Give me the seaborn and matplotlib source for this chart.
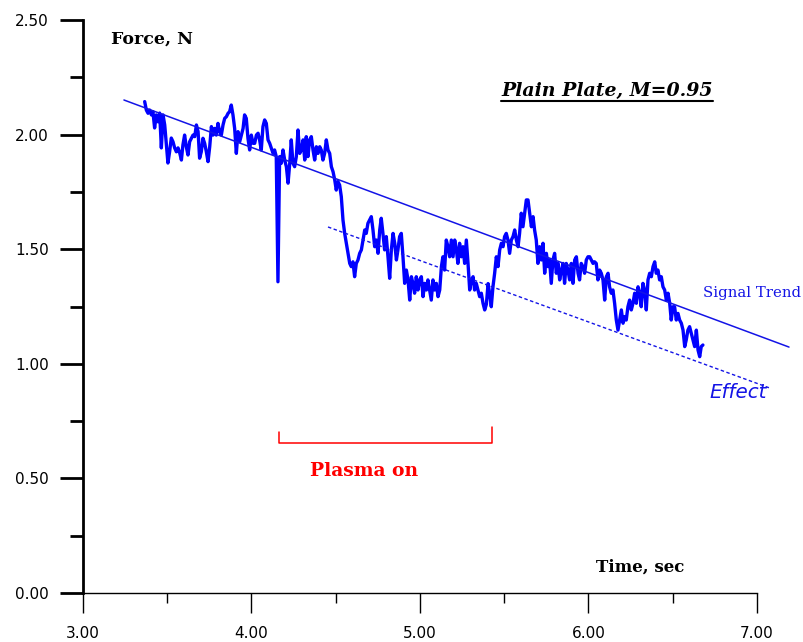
import matplotlib
matplotlib.use("Agg")
import matplotlib.pyplot as plt
from matplotlib.lines import Line2D
from matplotlib.ticker import FormatStrFormatter
import pandas as pd
import seaborn as sns

time_s = [
    3.366, 3.376, 3.386, 3.396, 3.406, 3.415, 3.425, 3.435, 3.445, 3.455,
    3.465, 3.475, 3.485, 3.495, 3.504, 3.514, 3.524, 3.534, 3.544, 3.554,
    3.564, 3.574, 3.584, 3.593, 3.603, 3.613, 3.623, 3.633, 3.643, 3.653,
    3.663, 3.673, 3.683, 3.692, 3.702, 3.712, 3.722, 3.732, 3.742, 3.752,
    3.762, 3.772, 3.781, 3.791, 3.801, 3.811, 3.821, 3.831, 3.841, 3.851,
    3.861, 3.870, 3.880, 3.890, 3.900, 3.910, 3.920, 3.930, 3.940, 3.950,
    3.959, 3.969, 3.979, 3.989, 3.999, 4.009, 4.019, 4.029, 4.039, 4.048,
    4.058, 4.068, 4.078, 4.088, 4.098, 4.108, 4.118, 4.128, 4.137, 4.147,
    4.157, 4.167, 4.177, 4.187, 4.197, 4.207, 4.217, 4.227, 4.236, 4.246,
    4.256, 4.266, 4.276, 4.286, 4.296, 4.306, 4.316, 4.325, 4.335, 4.345,
    4.355, 4.365, 4.375, 4.385, 4.395, 4.405, 4.414, 4.424, 4.434, 4.444,
    4.454, 4.464, 4.474, 4.484, 4.494, 4.503, 4.513, 4.523, 4.533, 4.543,
    4.553, 4.563, 4.573, 4.583, 4.592, 4.602, 4.612, 4.622, 4.632, 4.642,
    4.652, 4.662, 4.672, 4.681, 4.691, 4.701, 4.711, 4.721, 4.731, 4.741,
    4.751, 4.761, 4.770, 4.780, 4.790, 4.800, 4.810, 4.820, 4.830, 4.840,
    4.850, 4.860, 4.869, 4.879, 4.889, 4.899, 4.909, 4.919, 4.929, 4.939,
    4.949, 4.958, 4.968, 4.978, 4.988, 4.998, 5.008, 5.018, 5.028, 5.038,
    5.047, 5.057, 5.067, 5.077, 5.087, 5.097, 5.107, 5.117, 5.127, 5.136,
    5.146, 5.156, 5.166, 5.176, 5.186, 5.196, 5.206, 5.216, 5.225, 5.235,
    5.245, 5.255, 5.265, 5.275, 5.285, 5.295, 5.305, 5.315, 5.324, 5.334,
    5.344, 5.354, 5.364, 5.374, 5.384, 5.394, 5.404, 5.413, 5.423, 5.433,
    5.443, 5.453, 5.463, 5.473, 5.483, 5.493, 5.502, 5.512, 5.522, 5.532,
    5.542, 5.552, 5.562, 5.572, 5.582, 5.591, 5.601, 5.611, 5.621, 5.631,
    5.641, 5.651, 5.661, 5.671, 5.680, 5.690, 5.700, 5.710, 5.720, 5.730,
    5.740, 5.750, 5.760, 5.769, 5.779, 5.789, 5.799, 5.809, 5.819, 5.829,
    5.839, 5.849, 5.858, 5.868, 5.878, 5.888, 5.898, 5.908, 5.918, 5.928,
    5.938, 5.947, 5.957, 5.967, 5.977, 5.987, 5.997, 6.007, 6.017, 6.027,
    6.036, 6.046, 6.056, 6.066, 6.076, 6.086, 6.096, 6.106, 6.116, 6.125,
    6.135, 6.145, 6.155, 6.165, 6.175, 6.185, 6.195, 6.205, 6.215, 6.224,
    6.234, 6.244, 6.254, 6.264, 6.274, 6.284, 6.294, 6.304, 6.313, 6.323,
    6.333, 6.343, 6.353, 6.363, 6.373, 6.383, 6.393, 6.402, 6.412, 6.422,
    6.432, 6.442, 6.452, 6.462, 6.472, 6.482, 6.491, 6.501, 6.511, 6.521,
    6.531, 6.541, 6.551, 6.561, 6.571, 6.580, 6.590, 6.600, 6.610, 6.620,
    6.630, 6.640, 6.650, 6.660, 6.669, 6.679,
]
force_n = [
    # before plasma
    2.144, 2.107, 2.093, 2.107, 2.086, 2.100, 2.029, 2.086, 2.056, 2.094,
    1.942, 2.086, 2.042, 1.955, 1.876, 1.925, 1.985, 1.969, 1.942, 1.925,
    1.942, 1.920, 1.889, 1.955, 1.998, 1.947, 1.911, 1.969, 1.984, 1.998,
    1.991, 2.042, 2.013, 1.897, 1.925, 1.984, 1.962, 1.925, 1.882, 1.947,
    2.035, 1.998, 2.027, 1.998, 2.049, 2.013, 1.998, 2.042, 2.071, 2.078,
    2.093, 2.100, 2.129, 2.086, 2.027, 1.918, 2.013, 1.969, 1.998, 2.027,
    2.086, 2.071, 1.984, 1.933, 1.998, 1.962,
    1.962, 1.998, 2.006, 1.977, 1.933, 2.035, 2.064, 2.049, 1.977, 1.962,
    1.940, 1.918, 1.933, 1.904, 1.358, 1.904, 1.875, 1.933, 1.889, 1.860,
    1.788, 1.875, 1.977, 1.875, 1.860, 1.904, 2.020, 1.918, 1.933, 1.977,
    1.889, 1.991, 1.904, 1.977, 1.991, 1.933, 1.889, 1.947, 1.918, 1.947,
    1.933, 1.889, 1.918, 1.977, 1.933, 1.918, 1.860, 1.838, 1.802, 1.758,
    1.795, 1.780, 1.729, 1.627, 1.569, 1.526, 1.482, 1.438, 1.424, 1.445,
    1.380, 1.438, 1.453, 1.482, 1.497, 1.540, 1.584, 1.569, 1.613,
    1.627, 1.642, 1.584, 1.511, 1.540, 1.482, 1.584, 1.635, 1.569, 1.497,
    1.555, 1.467, 1.373, 1.497, 1.569, 1.526, 1.453, 1.497, 1.555, 1.569,
    1.467, 1.351, 1.409, 1.366, 1.278, 1.380, 1.351, 1.308, 1.380, 1.322,
    1.366, 1.380, 1.293, 1.351, 1.322, 1.366, 1.322, 1.278, 1.366, 1.322,
    1.351, 1.293, 1.322, 1.424, 1.467, 1.409, 1.540, 1.511, 1.467, 1.540,
    1.467, 1.540, 1.497, 1.438, 1.526, 1.467, 1.511, 1.438, 1.540, 1.438,
    1.322, 1.366, 1.380, 1.322, 1.351, 1.322, 1.293, 1.308, 1.264, 1.235,
    1.260, 1.350,
    1.308, 1.249, 1.336, 1.395, 1.467, 1.424, 1.497, 1.526, 1.511, 1.555,
    1.569, 1.540, 1.482, 1.540, 1.555, 1.584, 1.540, 1.511, 1.569, 1.657,
    1.598, 1.657, 1.715, 1.715, 1.657, 1.598, 1.642, 1.584, 1.540, 1.438,
    1.511, 1.453, 1.526, 1.395, 1.482, 1.424, 1.453, 1.351, 1.453, 1.482,
    1.395, 1.438, 1.366, 1.409, 1.438, 1.351, 1.438, 1.409, 1.366, 1.438,
    1.351, 1.453, 1.467, 1.395, 1.366, 1.438, 1.424, 1.395, 1.453, 1.467,
    1.467, 1.453, 1.438,
    1.445, 1.438, 1.366, 1.409, 1.395, 1.366, 1.278, 1.380, 1.395, 1.336,
    1.308, 1.322, 1.264, 1.191, 1.147, 1.191, 1.235, 1.177, 1.206, 1.191,
    1.249, 1.278, 1.235, 1.264, 1.308, 1.264, 1.336, 1.308, 1.249, 1.351,
    1.322, 1.235, 1.366, 1.395, 1.380, 1.424, 1.445, 1.395, 1.409, 1.366,
    1.380, 1.336, 1.322, 1.278, 1.308, 1.264, 1.191, 1.249, 1.249, 1.191,
    1.220, 1.191, 1.177, 1.147, 1.075, 1.104, 1.147, 1.162, 1.133, 1.104,
    1.075, 1.147, 1.060, 1.031, 1.075, 1.082,
]

# trend lines (end points)
trend_t = [3.243, 7.19]
trend_f = [2.151, 1.073]
effect_t = [4.454, 7.077]
effect_f = [1.597, 0.894]

# plasma-on bracket
plasma_t = [4.166, 4.166, 5.425, 5.425]
plasma_f = [0.702, 0.654, 0.654, 0.724]

x_major = [3, 4, 5, 6, 7]
x_minor = [3.5, 4.5, 5.5, 6.5]
y_major = [0, 0.5, 1.0, 1.5, 2.0, 2.5]
y_minor = [0.25, 0.75, 1.25, 1.75, 2.25]

sns.set_style("ticks")
plt.rcParams['font.family'] = ['DejaVu Sans']
plt.rcParams['text.color'] = 'black'

df = pd.DataFrame({'t': time_s, 'f': force_n})

fig = plt.figure(figsize=(8.04, 6.42), dpi=100)
ax = fig.add_axes([0.10323, 0.07632, 0.83831, 0.89252])

sns.lineplot(data=df, x='t', y='f', ax=ax, color='#0000ff', lw=2.4,
             estimator=None, sort=False)
sns.lineplot(x=trend_t, y=trend_f, ax=ax, color='#1414e6', lw=1.1,
             estimator=None, clip_on=False)
sns.lineplot(x=effect_t, y=effect_f, ax=ax, color='#1414e6', lw=1.0,
             estimator=None, clip_on=False, linestyle=(0, (2.5, 1.8)))
ax.plot(plasma_t, plasma_f, color='#ff0000', lw=1.1)

ax.set_xlim(3, 7)
ax.set_ylim(0, 2.5)
ax.set_xticks(x_major)
ax.set_xticks(x_minor, minor=True)
ax.set_yticks(y_major)
ax.set_yticks(y_minor, minor=True)
ax.xaxis.set_major_formatter(FormatStrFormatter('%.2f'))
ax.yaxis.set_major_formatter(FormatStrFormatter('%.2f'))
ax.set_xlabel('')
ax.set_ylabel('')

sns.despine(ax=ax)
ax.spines['left'].set_linewidth(2)
ax.spines['left'].set_color('black')
ax.spines['bottom'].set_linewidth(1)
ax.spines['bottom'].set_color('black')
ax.tick_params(axis='x', which='major', length=14.4, width=1, pad=9,
               labelsize=11, direction='out', colors='black')
ax.tick_params(axis='x', which='minor', length=7.2, width=1, direction='out',
               colors='black')
ax.tick_params(axis='y', which='major', length=16.5, width=2, pad=8,
               labelsize=11, direction='out', colors='black')
ax.tick_params(axis='y', which='minor', length=9.4, width=2, direction='out',
               colors='black')

serif = 'DejaVu Serif'
ax.text(3.166, 2.397, 'Force, N', family=serif, weight='bold', fontsize=12.5,
        color='black')
ax.text(6.045, 0.092, 'Time, sec', family=serif, weight='bold', fontsize=12,
        color='black')
ax.text(4.347, 0.510, 'Plasma on', family=serif, weight='bold', fontsize=13.5,
        color='#ff0000')
ax.text(6.680, 1.291, 'Signal Trend', family=serif, fontsize=10.7,
        color='#1414e6', clip_on=False)
ax.text(6.715, 0.851, 'Effect', style='italic', fontsize=14.3,
        color='#1414e6', clip_on=False)
title = ax.text(5.481, 2.168, 'Plain Plate, M=0.95', family=serif,
                weight='bold', style='italic', fontsize=13.6, color='black')

# underline the title text
fig.canvas.draw()
bb = title.get_window_extent(fig.canvas.get_renderer())
inv = fig.transFigure.inverted()
(ux0, uy), (ux1, _) = inv.transform([(bb.x0, bb.y0 - 1), (bb.x1, bb.y0 - 1)])
fig.add_artist(Line2D([ux0, ux1], [uy, uy], color='black', lw=1.5))

fig.savefig('out.png', dpi=100)
